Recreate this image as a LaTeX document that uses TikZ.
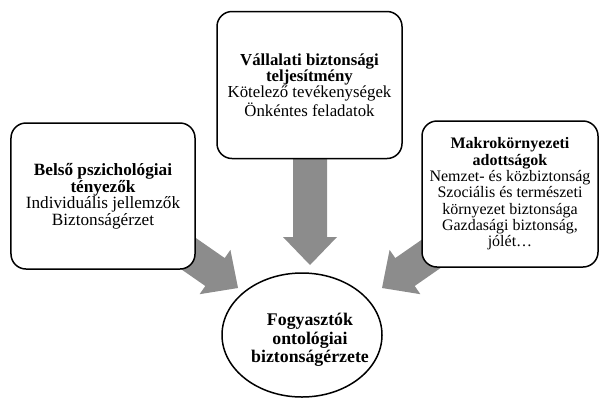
\documentclass[tikz,border=0pt]{standalone}
\usepackage{fontspec}
\setmainfont{Liberation Serif}
\usetikzlibrary{shapes.geometric,calc,backgrounds}
\definecolor{arrowgray}{RGB}{140,140,140}
\tikzset{
  factorbox/.style={draw, line width=1.5bp, rounded corners=15bp, fill=white,
    align=center, inner sep=0pt, font=\fontsize{17.2bp}{15bp}\selectfont},
  resultell/.style={draw, ellipse, line width=1.5bp, fill=white,
    inner sep=0pt, minimum width=160bp, minimum height=124bp},
  resulttext/.style={align=center, inner sep=0pt,
    font=\bfseries\fontsize{17.8bp}{18.3bp}\selectfont},
}
% wide grey arrow from #1 to #2 (tip)
\newcommand\blockarrow[2]{%
  \coordinate (h) at ($(#2)!28bp!(#1)$);
  \fill[arrowgray] ($(#1)!17bp!90:(#2)$) -- ($(h)!17bp!-90:(#1)$)
    -- ($(h)!27bp!-90:(#1)$) -- (#2) -- ($(h)!27bp!90:(#1)$)
    -- ($(h)!17bp!90:(#1)$) -- ($(#1)!17bp!-90:(#2)$) -- cycle;}
\begin{document}
\begin{tikzpicture}[x=1bp,y=-1bp]
\useasboundingbox (0,0) rectangle (599,398);
\node[factorbox, minimum width=184bp, minimum height=146bp] (belso) at (103,196)
  {\textbf{Belső pszichológiai}\\\textbf{tényezők}\\Individuális jellemzők\\Biztonságérzet};
\node[factorbox, minimum width=185bp, minimum height=147bp,
  font=\fontsize{16.8bp}{14.5bp}\selectfont] (vallalati) at (309.5,85)
  {\textbf{Vállalati biztonsági}\\\textbf{teljesítmény}\\Kötelező tevékenységek\\Önkéntes feladatok};
\node[factorbox, minimum width=176bp, minimum height=146bp,
  font=\fontsize{16bp}{16.3bp}\selectfont] (makro) at (510,194)
  {\textbf{Makrokörnyezeti}\\\textbf{adottságok}\\Nemzet- és közbiztonság\\Szociális és természeti\\környezet biztonsága\\Gazdasági biztonság,\\jólét…};
\node[resultell] (fogy) at (302,335) {};
\node[resulttext] (fogytext) at (310,340) {Fogyasztók\\ontológiai\\biztonságérzete};
\coordinate (ltail) at (156,231);
\coordinate (ltip) at (238,288);
\coordinate (ttail) at (310,120);
\coordinate (ttip) at (310,265);
\coordinate (rtail) at (464,231);
\coordinate (rtip) at (382,288);
\begin{scope}[on background layer]
\blockarrow{ltail}{ltip}
\blockarrow{ttail}{ttip}
\blockarrow{rtail}{rtip}
\end{scope}
\end{tikzpicture}
\end{document}
